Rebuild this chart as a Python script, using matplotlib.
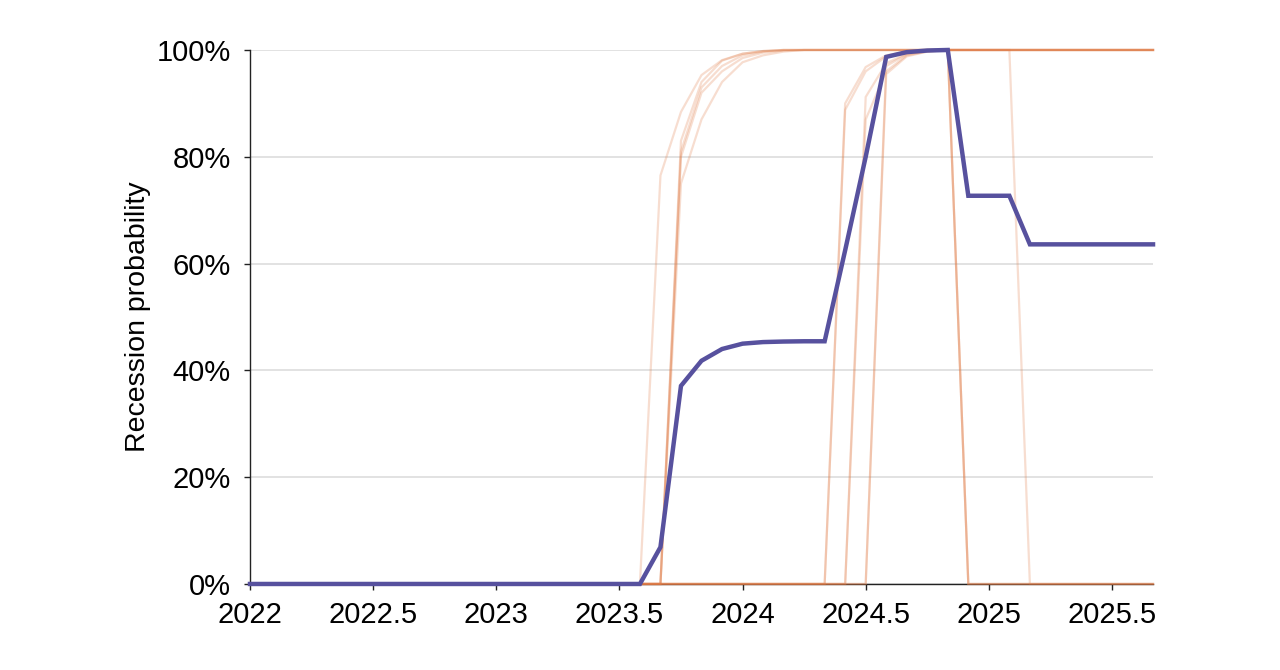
import numpy as np
import matplotlib
matplotlib.use("Agg")
import matplotlib.pyplot as plt

plt.rcParams['font.family'] = ['Liberation Sans', 'DejaVu Sans']

# monthly time axis, Jan 2022 .. Sep 2025
months = 2022 + np.arange(45) / 12.0

# mean recession probability (purple)
mean_prob = ([0.0] * 20 +
             [0.069, 0.371, 0.418, 0.440, 0.450, 0.453, 0.454, 0.4545, 0.4545,
              0.625, 0.800, 0.987, 0.996, 0.999, 1.0,
              0.727, 0.727, 0.727] +
             [0.636] * 7)

# individual scenario paths (orange)
path_1 = [0.0] * 20 + [0.765, 0.884, 0.953, 0.981, 0.993, 0.998] + [1.0] * 19
path_2 = [0.0] * 21 + [0.83, 0.94, 0.98, 0.993, 0.998] + [1.0] * 9 + [0.0] * 10
path_3 = [0.0] * 21 + [0.81, 0.93, 0.97, 0.99, 0.997] + [1.0] * 19
path_4 = [0.0] * 21 + [0.80, 0.92, 0.96, 0.985, 0.995, 0.999] + [1.0] * 18
path_5 = [0.0] * 21 + [0.75, 0.87, 0.94, 0.977, 0.99, 0.997] + [1.0] * 18
path_6 = [0.0] * 29 + [0.90, 0.968, 0.99, 0.997, 1.0, 1.0] + [0.0] * 10
path_7 = [0.0] * 29 + [0.888, 0.96, 0.988, 0.997] + [1.0] * 12
path_8 = [0.0] * 30 + [0.912, 0.975, 0.993, 0.998, 1.0] + [0.0] * 10
path_9 = [0.0] * 30 + [0.87, 0.96, 0.99, 0.997] + [1.0] * 11
path_10 = [0.0] * 31 + [0.97, 0.992, 0.998, 1.0, 1.0, 1.0, 1.0] + [0.0] * 7
path_11 = [0.0] * 31 + [0.955, 0.988, 0.997] + [1.0] * 11
paths = [path_1, path_2, path_3, path_4, path_5, path_6,
         path_7, path_8, path_9, path_10, path_11]

x_ticks = [2022, 2022.5, 2023, 2023.5, 2024, 2024.5, 2025, 2025.5]
x_tick_labels = ["2022", "2022.5", "2023", "2023.5", "2024", "2024.5", "2025", "2025.5"]
y_ticks = [0, 0.2, 0.4, 0.6, 0.8, 1.0]
y_tick_labels = ["0%", "20%", "40%", "60%", "80%", "100%"]

fig = plt.figure(figsize=(12.8, 6.7), dpi=100)
ax = fig.add_axes([0.1953, 0.1284, 0.7055, 0.797])

for p in paths:
    ax.plot(months, p, color='#e07b45', alpha=0.25, lw=1.6, zorder=3,
            solid_joinstyle='miter', clip_on=False)
ax.plot(months, mean_prob, color='#57519e', lw=3.2, zorder=4,
        solid_joinstyle='miter', clip_on=False)

ax.set_xlim(2022, months[-1])
ax.set_ylim(0, 1)
ax.set_xticks(x_ticks)
ax.set_xticklabels(x_tick_labels)
ax.set_yticks(y_ticks)
ax.set_yticklabels(y_tick_labels)

ax.yaxis.grid(True, color='#dddddd', lw=1.2, zorder=0)
ax.set_axisbelow(True)
for s in ['top', 'right']:
    ax.spines[s].set_visible(False)
for s in ['left', 'bottom']:
    ax.spines[s].set_linewidth(1.0)
    ax.spines[s].set_color('#222222')
    ax.spines[s].set_zorder(2)

ax.tick_params(axis='both', labelsize=21, length=4, width=1.0, color='#222222')
ax.tick_params(axis='x', pad=8)
ax.tick_params(axis='y', pad=10)
ax.set_ylabel("Recession probability", fontsize=20.5, labelpad=4)

fig.savefig("out.png", dpi=100)
